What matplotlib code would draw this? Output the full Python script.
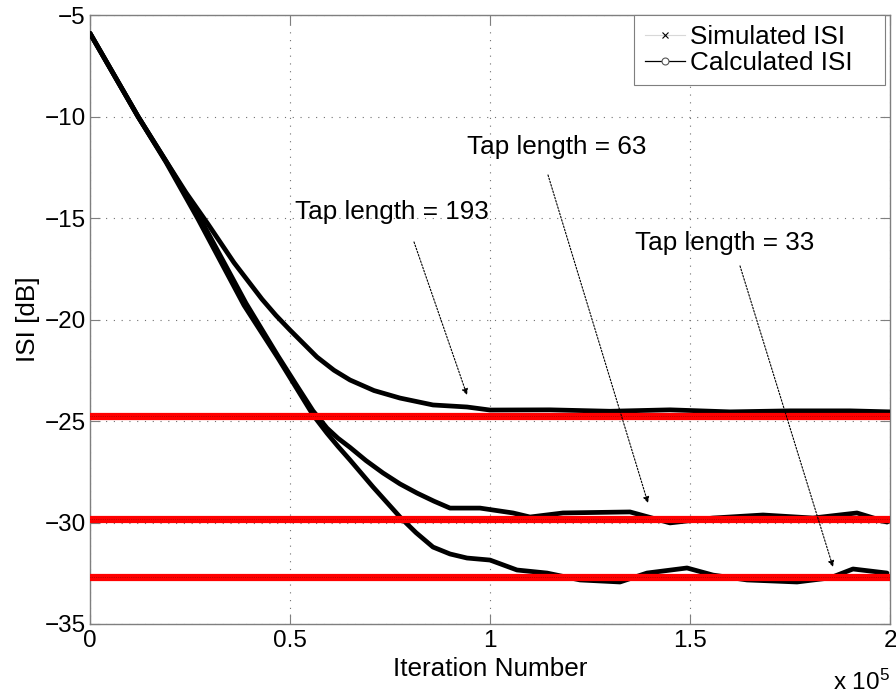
import matplotlib
matplotlib.use("Agg")
import matplotlib.pyplot as plt
from matplotlib.lines import Line2D
from matplotlib.ticker import FuncFormatter

plt.rcParams['font.family'] = ['Liberation Sans', 'DejaVu Sans']
plt.rcParams['mathtext.fontset'] = 'custom'
plt.rcParams['mathtext.rm'] = 'Liberation Sans'
plt.rcParams['mathtext.default'] = 'regular'

FS_TICK = 17.5
FS = 18.8

# simulated ISI (dB) vs iteration
x193 = [0, 6000, 12000, 19000, 24000, 29500, 36000, 43000, 46500, 50000, 56750, 61000,
        65000, 71000, 77500, 85750, 94250, 100000, 115000, 130000, 145000,
        160000, 175000, 190000, 200000]
y193 = [-5.9, -7.95, -10.0, -12.2, -13.75, -15.3, -17.2, -19.0, -19.8, -20.52, -21.85, -22.5,
        -22.98, -23.5, -23.87, -24.21, -24.31, -24.46, -24.45, -24.52, -24.45,
        -24.55, -24.5, -24.5, -24.55]

x63 = [0, 6000, 12000, 19000, 27500, 39000, 47000, 52000, 55750, 59250, 62000,
       65000, 69000, 73250, 77500, 81750, 86000, 90000, 97500, 105750, 110000,
       118250, 135000, 145000, 155750, 168250, 180750, 191750, 199250]
y63 = [-5.9, -7.95, -10.0, -12.2, -15.0, -19.2, -21.8, -23.35, -24.5, -25.35, -25.85,
       -26.3, -26.95, -27.56, -28.1, -28.55, -28.95, -29.29, -29.29, -29.53, -29.73,
       -29.53, -29.48, -30.02, -29.78, -29.63, -29.78, -29.53, -29.98]

x33 = [0, 6000, 12000, 19000, 27000, 38500, 47000, 52000, 55750, 59250, 62000,
       65000, 70750, 77500, 81500, 85750, 90000, 94250, 100000, 106750, 114250,
       122500, 132500, 139250, 149250, 155750, 164250, 176750, 185000, 190750, 199250]
y33 = [-5.9, -7.95, -10.0, -12.25, -15.05, -19.3, -21.9, -23.5, -24.7, -25.6, -26.25,
       -26.92, -28.25, -29.73, -30.5, -31.21, -31.55, -31.75, -31.85, -32.34, -32.49,
       -32.83, -32.93, -32.49, -32.24, -32.59, -32.83, -32.93, -32.73, -32.29, -32.49]

# calculated ISI (steady state)
calc_levels = [-24.75, -29.83, -32.68]
x_range = [0, 200000]

labels = ["Tap length = 193", "Tap length = 63", "Tap length = 33"]
text_pos = [(51250, -14.7), (94250, -11.5), (136250, -16.23)]
arrow_from = [(81000, -16.18), (114500, -12.88), (162500, -17.36)]
arrow_to = [(94250, -23.72), (139500, -29.04), (185750, -32.19)]

fig = plt.figure(figsize=(8.96, 6.95), dpi=100)
ax = fig.add_axes([90 / 896, 71 / 695, 800 / 896, 609 / 695])

for xs, ys in [(x193, y193), (x63, y63), (x33, y33)]:
    ax.plot(xs, ys, color='black', lw=3.4, solid_joinstyle='round',
            solid_capstyle='round', zorder=3)

for lev in calc_levels:
    ax.plot(x_range, [lev, lev], color='#ff0000', lw=5.2,
            solid_capstyle='round', zorder=4)
    ax.plot(x_range, [lev, lev], color='#8a0000', lw=0.5, ls=':', zorder=5)

for lab, tp, af, at in zip(labels, text_pos, arrow_from, arrow_to):
    ax.text(tp[0], tp[1], lab, fontsize=FS, va='center', ha='left', zorder=6)
    ax.annotate('', xy=at, xytext=af,
                arrowprops=dict(arrowstyle='-|>', color='black', lw=0.8,
                                ls=(0, (1.5, 1.5)), mutation_scale=9,
                                shrinkA=0, shrinkB=0), zorder=6)

ax.set_xlim(0, 200000)
ax.set_ylim(-35, -5)
ax.set_xticks([0, 50000, 100000, 150000, 200000])
ax.set_yticks([-35, -30, -25, -20, -15, -10, -5])
ax.xaxis.set_major_formatter(FuncFormatter(lambda v, p: '%g' % (v / 1e5)))
ax.tick_params(direction='in', length=7, width=0.8, color='#7f7f7f',
               top=True, right=True, labelsize=FS_TICK, labelcolor='black')
ax.tick_params(axis='x', pad=4)
ax.tick_params(axis='y', pad=3)
ax.grid(True, color='#707070', lw=0.8, ls=(0, (1, 6)))
for sp in ax.spines.values():
    sp.set_color('#7f7f7f')
    sp.set_linewidth(1.0)

ax.set_xlabel("Iteration Number", fontsize=FS, labelpad=4)
ax.set_ylabel("ISI [dB]", fontsize=FS, labelpad=3)
fig.text(833 / 896, 1 - 690 / 695, r'x 10$^{5}$', fontsize=FS_TICK, ha='left', va='baseline')

handles = [
    Line2D([], [], color='#d8d8d8', lw=0.8, marker='x', ms=4,
           mec='black', mew=0.8),
    Line2D([], [], color='black', lw=0.9, marker='o', ms=5,
           mfc='white', mec='#555555', mew=0.8),
]
leg = ax.legend(handles, ["Simulated ISI   ", "Calculated ISI   "], loc='upper right',
                bbox_to_anchor=(0.994, 1.0), borderaxespad=0, fontsize=FS,
                fancybox=False, framealpha=1, edgecolor='#7f7f7f',
                handlelength=1.55, handletextpad=0.2, labelspacing=0.05,
                borderpad=0.4)
leg.get_frame().set_linewidth(0.8)
leg.set_zorder(10)

fig.savefig("out.png", dpi=100)
